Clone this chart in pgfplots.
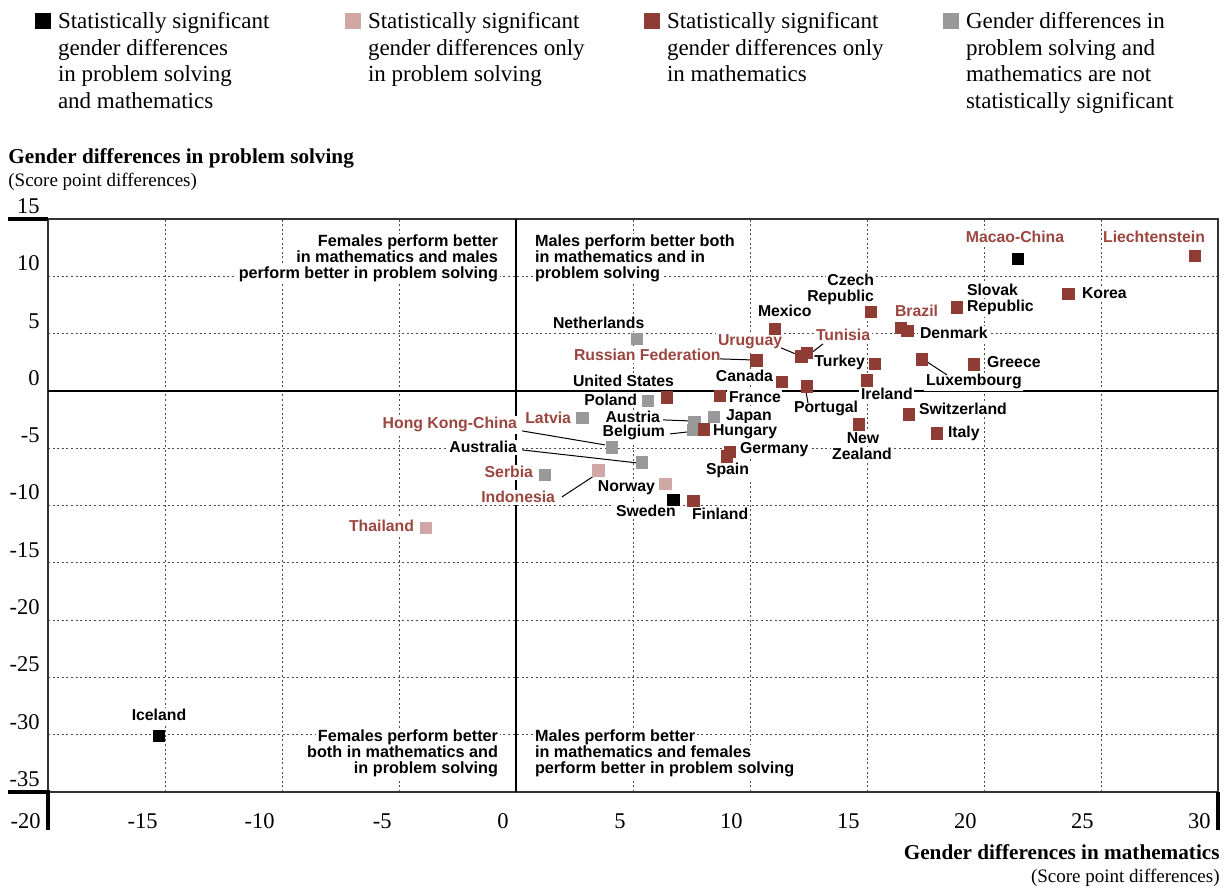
\documentclass[border=0pt]{standalone}
\usepackage{fontspec}
\setmainfont{Liberation Serif}
\newfontfamily\labfont{Liberation Sans}
\usepackage{pgfplots}
\pgfplotsset{compat=1.18}
\definecolor{cpink}{RGB}{207,168,165}
\definecolor{cred}{RGB}{142,60,52}
\definecolor{cgray}{RGB}{153,153,153}
\definecolor{lred}{RGB}{155,70,62}
\newcommand{\txt}[4][]{\node[inner sep=0pt,#1] at (axis cs:{(#2-48)/23.4-20},{(391-#3)/11.46}) {#4};}
\newcommand{\ldr}[4]{\draw[black, line width=0.5pt] (axis cs:{(#1-48)/23.4-20},{(391-#2)/11.46}) -- (axis cs:{(#3-48)/23.4-20},{(391-#4)/11.46});}
\tikzset{lab/.style={font=\labfont\bfseries\fontsize{7.9}{8}\selectfont, fill=white, inner sep=0.8pt, text=black},
  labr/.style={lab, text=lred},
  quad/.style={lab, font=\labfont\bfseries\fontsize{8.1}{8.2}\selectfont}}
\pgfplotsset{sqlegend/.style={legend image code/.code={\draw[##1] plot coordinates {(0pt,3.5pt)};}}}
\newcommand{\legtext}[1]{\parbox[t]{125pt}{\raggedright\fontsize{11.5}{13.4}\selectfont #1}}
\begin{document}
\begin{tikzpicture}
\begin{axis}[
  width=585pt, height=286.5pt, scale only axis,
  xmin=-20, xmax=30, ymin=-35, ymax=15,
  xtick={-20,-15,...,30}, ytick={-35,-30,...,15},
  xticklabels={-20,-15,-10,-5,0,5,10,15,20,25,30},
  yticklabels={-35,-30,-25,-20,-15,-10,-5,0,5,10,15},
  major tick length=0pt,
  grid=major,
  major grid style={gray!60!black, line width=0.5pt, dash pattern=on 1pt off 1.3pt},
  axis line style={gray!40!black, line width=0.6pt},
  ticklabel style={font=\fontsize{11.25}{13}\selectfont},
  xticklabel style={anchor=base east, inner sep=0pt, xshift=-3.5pt, yshift=-18pt},
  yticklabel style={anchor=base east, inner sep=0pt, xshift=-4pt, yshift=2.8pt},
  clip=false,
  legend columns=4,
  legend style={at={(axis description cs:-0.01068,1.3609)}, anchor=north west,
    draw=none, fill=none, inner sep=0pt, outer sep=0pt,
    cells={anchor=base west},
    nodes={inner sep=0pt, text depth=},
    /tikz/column 1/.style={column sep=3.75pt},
    /tikz/column 2/.style={column sep=18.75pt},
    /tikz/column 3/.style={column sep=3.75pt},
    /tikz/column 4/.style={column sep=13.25pt},
    /tikz/column 5/.style={column sep=3.75pt},
    /tikz/column 6/.style={column sep=13.25pt},
    /tikz/column 7/.style={column sep=3.75pt}},
]
\coordinate (SW) at (rel axis cs:0,0);
\coordinate (NW) at (rel axis cs:0,1);
\coordinate (SE) at (rel axis cs:1,0);
% zero lines
\draw[black, line width=1.4pt] (axis cs:0,-35) -- (axis cs:0,15);
\draw[black, line width=1.4pt] (axis cs:-20,0) -- (axis cs:30,0);
% axis titles
\txt[anchor=base west, font=\bfseries\fontsize{10.6}{12}\selectfont]{8}{164}{Gender differences in problem solving}
\txt[anchor=base west, font=\fontsize{9.5}{11}\selectfont]{8}{187}{(Score point differences)}
\txt[anchor=base east, font=\bfseries\fontsize{10.6}{12}\selectfont]{1220}{860}{Gender differences in mathematics}
\txt[anchor=base east, font=\fontsize{9.5}{11}\selectfont]{1220}{883}{(Score point differences)}
% quadrant texts
\txt[quad, anchor=base east]{500}{247}{Females perform better}
\txt[quad, anchor=base east]{500}{263}{in mathematics and males}
\txt[quad, anchor=base east]{500}{279}{perform better in problem solving}
\txt[quad, anchor=base west]{533}{247}{Males perform better both}
\txt[quad, anchor=base west]{533}{263}{in mathematics and in}
\txt[quad, anchor=base west]{533}{279}{problem solving}
\txt[quad, anchor=base east]{500}{742}{Females perform better}
\txt[quad, anchor=base east]{500}{758}{both in mathematics and}
\txt[quad, anchor=base east]{500}{774}{in problem solving}
\txt[quad, anchor=base west]{533}{742}{Males perform better}
\txt[quad, anchor=base west]{533}{758}{in mathematics and females}
\txt[quad, anchor=base west]{533}{774}{perform better in problem solving}
% country labels
\txt[labr, anchor=base]{1015}{243}{Macao-China}
\txt[labr, anchor=base]{1154}{243}{Liechtenstein}
\txt[lab, anchor=base west]{1080}{299}{Korea}
\txt[lab, anchor=base west]{965}{296}{Slovak}
\txt[lab, anchor=base west]{965}{312}{Republic}
\txt[lab, anchor=base east]{876}{286}{Czech}
\txt[lab, anchor=base east]{876}{302}{Republic}
\txt[labr, anchor=base west]{893}{317}{Brazil}
\txt[lab, anchor=base west]{918}{339}{Denmark}
\txt[lab, anchor=base west]{756}{317}{Mexico}
\txt[labr, anchor=base west]{814}{341}{Tunisia}
\txt[labr, anchor=base west]{716}{346}{Uruguay}
\txt[labr, anchor=base west]{572}{361}{Russian Federation}
\txt[lab, anchor=base east]{867}{367}{Turkey}
\txt[lab, anchor=base east]{775}{382}{Canada}
\txt[lab, anchor=base west]{571}{387}{United States}
\txt[lab, anchor=base west]{924}{386}{Luxembourg}
\txt[lab, anchor=base west]{985}{368}{Greece}
\txt[lab, anchor=base west]{859}{400}{Ireland}
\txt[lab, anchor=base west]{792}{413}{Portugal}
\txt[lab, anchor=base west]{727}{403}{France}
\txt[lab, anchor=base east]{639}{406}{Poland}
\txt[lab, anchor=base west]{551}{329}{Netherlands}
\txt[labr, anchor=base east]{573}{424}{Latvia}
\txt[lab, anchor=base west]{724}{421}{Japan}
\txt[lab, anchor=base east]{662}{423}{Austria}
\txt[lab, anchor=base east]{667}{437}{Belgium}
\txt[lab, anchor=base west]{711}{436}{Hungary}
\txt[lab, anchor=base west]{917}{415}{Switzerland}
\txt[lab, anchor=base]{863}{444}{New}
\txt[lab, anchor=base]{862}{460}{Zealand}
\txt[lab, anchor=base west]{946}{438}{Italy}
\txt[labr, anchor=base east]{519}{429}{Hong Kong-China}
\txt[lab, anchor=base east]{519}{453}{Australia}
\txt[lab, anchor=base west]{738}{454}{Germany}
\txt[lab, anchor=base west]{704}{475}{Spain}
\txt[labr, anchor=base east]{535}{478}{Serbia}
\txt[labr, anchor=base east]{557}{503}{Indonesia}
\txt[lab, anchor=base east]{657}{492}{Norway}
\txt[lab, anchor=base west]{614}{517}{Sweden}
\txt[lab, anchor=base west]{690}{520}{Finland}
\txt[labr, anchor=base east]{416}{532}{Thailand}
\txt[lab, anchor=base]{159}{721}{Iceland}
% leader lines
\ldr{823}{344}{810}{354}
\ldr{781}{348}{798}{355}
\ldr{720}{359}{751}{360}
\ldr{927}{362}{947}{375}
\ldr{806}{392}{808}{403}
\ldr{663}{420}{689}{421}
\ldr{670}{434}{688}{432}
\ldr{522}{431}{605}{445}
\ldr{522}{450}{637}{463}
\ldr{562}{497}{594}{476}
% data
\addplot[only marks, mark=square*, mark size=2.85pt, color=cgray, mark options={draw=none}, forget plot] coordinates {
 (5.17,4.54) (5.63,-0.87) (2.83,-2.38) (8.46,-2.27) (7.62,-2.68) (7.55,-3.40) (4.10,-4.94) (5.37,-6.25) (1.24,-7.33)};
\addplot[only marks, mark=square*, mark size=2.85pt, color=cpink, mark options={draw=none}, forget plot] coordinates {
 (-3.85,-11.98) (3.52,-6.95) (6.38,-8.14)};
\addplot[only marks, mark=square*, mark size=2.85pt, color=cred, mark options={draw=none}, forget plot] coordinates {
 (29.0,11.8) (23.6,8.49) (18.83,7.27) (15.16,6.87) (16.44,5.52) (16.72,5.26) (11.07,5.41)
 (12.2,3.0) (12.42,3.3) (10.28,2.65) (15.34,2.38) (17.34,2.76) (19.57,2.30)
 (11.37,0.81) (14.99,0.93) (12.42,0.38) (8.72,-0.41) (6.44,-0.55) (8.03,-3.35)
 (16.79,-2.04) (14.66,-2.91) (17.98,-3.70) (9.15,-5.3) (9.0,-5.7) (7.58,-9.60)};
\addplot[only marks, mark=square*, mark size=2.85pt, color=black, mark options={draw=none}, forget plot] coordinates {
 (-15.26,-30.1) (21.45,11.5) (6.72,-9.51)};
% legend
\addlegendimage{only marks, mark=square*, mark size=3.75pt, black, mark options={draw=none}, sqlegend}
\addlegendentry{\legtext{Statistically significant\newline gender differences\newline in problem solving\newline and mathematics}}
\addlegendimage{only marks, mark=square*, mark size=3.75pt, cpink, mark options={draw=none}, sqlegend}
\addlegendentry{\legtext{Statistically significant\newline gender differences only\newline in problem solving}}
\addlegendimage{only marks, mark=square*, mark size=3.75pt, cred, mark options={draw=none}, sqlegend}
\addlegendentry{\legtext{Statistically significant\newline gender differences only\newline in mathematics}}
\addlegendimage{only marks, mark=square*, mark size=3.75pt, cgray, mark options={draw=none}, sqlegend}
\addlegendentry{\legtext{Gender differences in\newline problem solving and\newline mathematics are not\newline statistically significant}}
\end{axis}
% thick corner marks
\draw[black, line width=1.7pt] (NW) -- ++(-20pt,0);
\draw[black, line width=1.7pt] ([xshift=-20pt]SW) -- (SW) -- ++(0,-19pt);
\draw[black, line width=1.7pt] (SE) -- ++(0,-19pt);
\pgfresetboundingbox
\path[use as bounding box] (SW) ++(-24pt,-48.5pt) rectangle ++(614.5pt,444.5pt);
\end{tikzpicture}
\end{document}
